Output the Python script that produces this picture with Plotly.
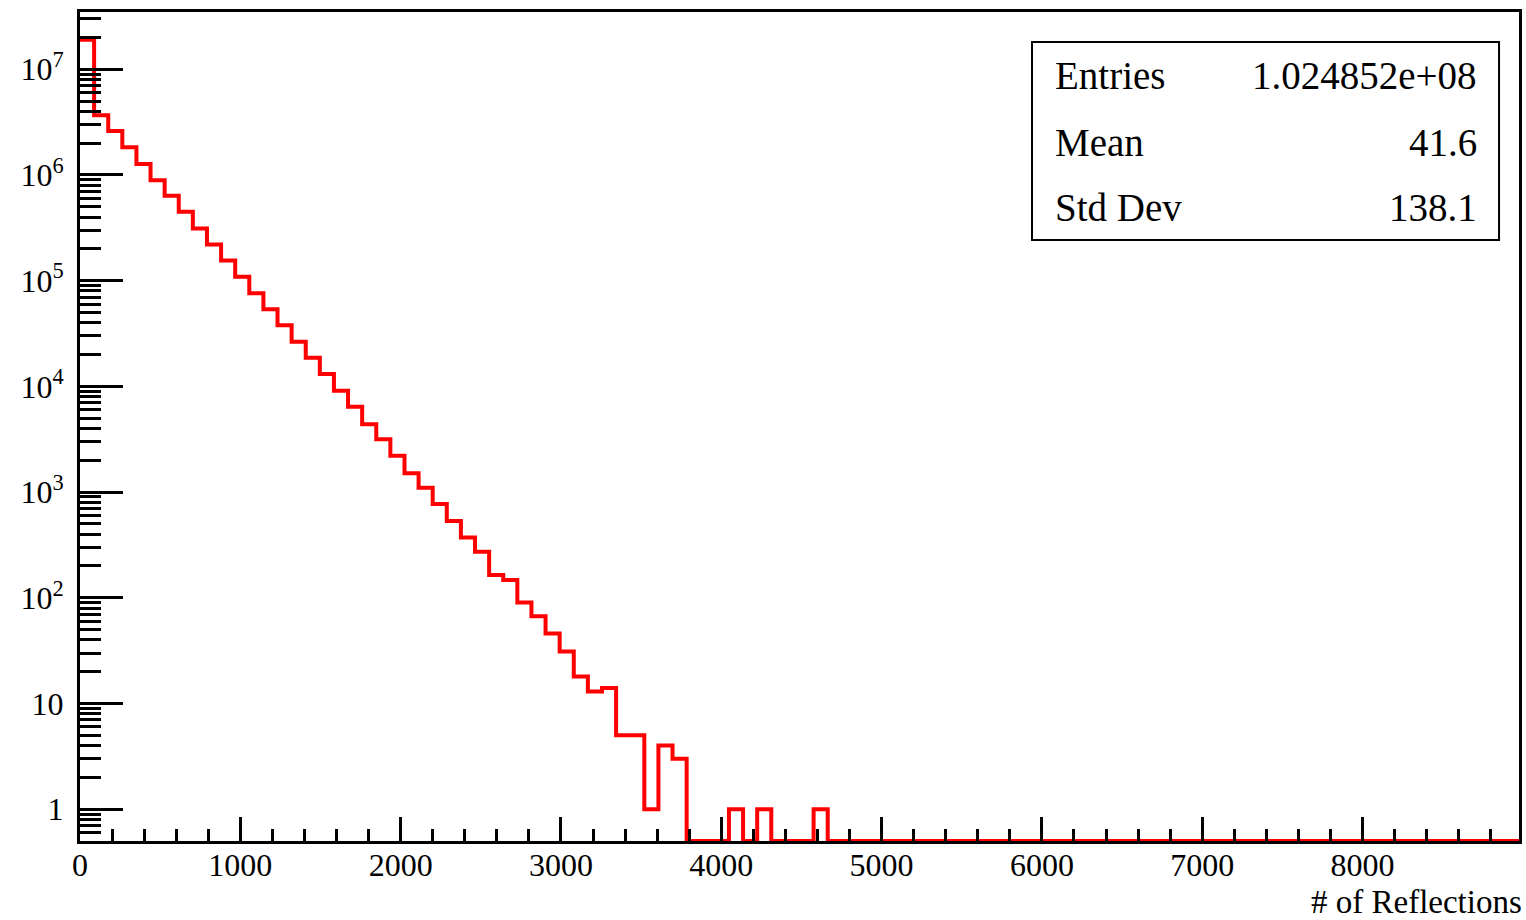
import numpy as np
import plotly.graph_objects as go

# Histogram of reflection counts: 102 bins of width 88 starting at 0
bin_width = 88
n_bins = 102
counts_nonzero_region = [
    18970000, 3680000, 2600000, 1830000, 1270000, 893000, 634000, 448000,
    312000, 220000, 155000, 109000, 76200, 53700, 37900, 26400, 18600,
    13100, 9070, 6400, 4390, 3160, 2200, 1510, 1100, 773, 531, 372, 272,
    164, 147, 90, 67, 46, 31, 18, 13, 14, 5, 5, 1, 4, 3,
    0, 0, 0, 1, 0, 1, 0, 0, 0, 1,
]
counts = counts_nonzero_region + [0] * (n_bins - len(counts_nonzero_region))

# Statistics panel
stat_names = ["Entries", "Mean", "Std Dev"]
stat_values = ["1.024852e+08", "41.6", "138.1"]

# Axis settings
x_title = "# of Reflections"
y_floor = 0.5
y_top = 3.48e7
y_major = [1, 10, 100, 1e3, 1e4, 1e5, 1e6, 1e7]
y_major_text = ["1", "10", "10<sup>2</sup>", "10<sup>3</sup>", "10<sup>4</sup>",
                "10<sup>5</sup>", "10<sup>6</sup>", "10<sup>7</sup>"]

FONT = "Liberation Serif"

edges = np.arange(n_bins + 1) * bin_width
counts_arr = np.array(counts, dtype=float)
# empty bins sit on the lower edge of the log axis
shown = np.where(counts_arr > 0, counts_arr, y_floor)

# outline: step through the bins, closing on the right edge
x_line = edges
y_line = np.concatenate([shown, [shown[-1]]])

y_minor = []
for d in range(-1, 8):
    for k in range(2, 10):
        v = k * 10.0 ** d
        if y_floor < v < y_top:
            y_minor.append(v)

fig = go.Figure()
fig.add_trace(go.Scatter(
    x=x_line, y=y_line, mode="lines", line_shape="hv",
    line=dict(color="#ff0000", width=4), showlegend=False, hoverinfo="skip",
))

W, H = 1526, 920
ml, mr, mt, mb = 80, 4, 12, 79

fig.update_layout(
    width=W, height=H,
    margin=dict(l=ml, r=mr, t=mt, b=mb, pad=0),
    paper_bgcolor="white", plot_bgcolor="white",
    font=dict(family=FONT, size=32, color="black"),
    showlegend=False,
)

fig.update_xaxes(
    range=[0, edges[-1]], showgrid=False, zeroline=False,
    showline=True, linecolor="black", linewidth=3, mirror=True,
    ticks="inside", ticklen=24, tickwidth=2.5, tickcolor="black",
    tick0=0, dtick=1000, ticklabelstandoff=-6,
    tickfont=dict(family=FONT, size=32, color="black"),
    minor=dict(ticks="inside", ticklen=12, tickwidth=2.5, tickcolor="black",
               dtick=200, showgrid=False),
)

fig.update_yaxes(
    type="log", range=[np.log10(y_floor), np.log10(y_top)],
    showgrid=False, zeroline=False,
    showline=True, linecolor="black", linewidth=3, mirror=True,
    ticks="inside", ticklen=43, tickwidth=2.5, tickcolor="black",
    tickmode="array", tickvals=y_major, ticktext=y_major_text,
    ticklabelstandoff=7,
    tickfont=dict(family=FONT, size=32, color="black"),
    minor=dict(ticks="inside", ticklen=21, tickwidth=2.5, tickcolor="black",
               tickmode="array", tickvals=y_minor, showgrid=False),
)

# pixel -> paper helpers for the overlay panel
pw = W - ml - mr
ph = H - mt - mb


def px_x(p):
    return (p - ml) / pw


def px_y(p):
    return (H - mb - p) / ph


fig.add_shape(
    type="rect", xref="paper", yref="paper",
    x0=px_x(1034), x1=px_x(1502), y0=px_y(240), y1=px_y(42),
    line=dict(color="black", width=2), fillcolor="white", layer="above",
)

row_y = [76, 142, 208]
for name, val, py in zip(stat_names, stat_values, row_y):
    fig.add_annotation(
        x=px_x(1055), y=px_y(py), xref="paper", yref="paper",
        text=name, showarrow=False, xanchor="left", yanchor="middle",
        font=dict(family=FONT, size=39, color="black"),
    )
    fig.add_annotation(
        x=px_x(1482), y=px_y(py), xref="paper", yref="paper",
        text=val, showarrow=False, xanchor="right", yanchor="middle",
        font=dict(family=FONT, size=39, color="black"),
    )

fig.add_annotation(
    x=1.0, y=px_y(902), xref="paper", yref="paper", xshift=5,
    text=x_title, showarrow=False, xanchor="right", yanchor="middle",
    font=dict(family=FONT, size=33, color="black"),
)

fig.write_html("out.html")
